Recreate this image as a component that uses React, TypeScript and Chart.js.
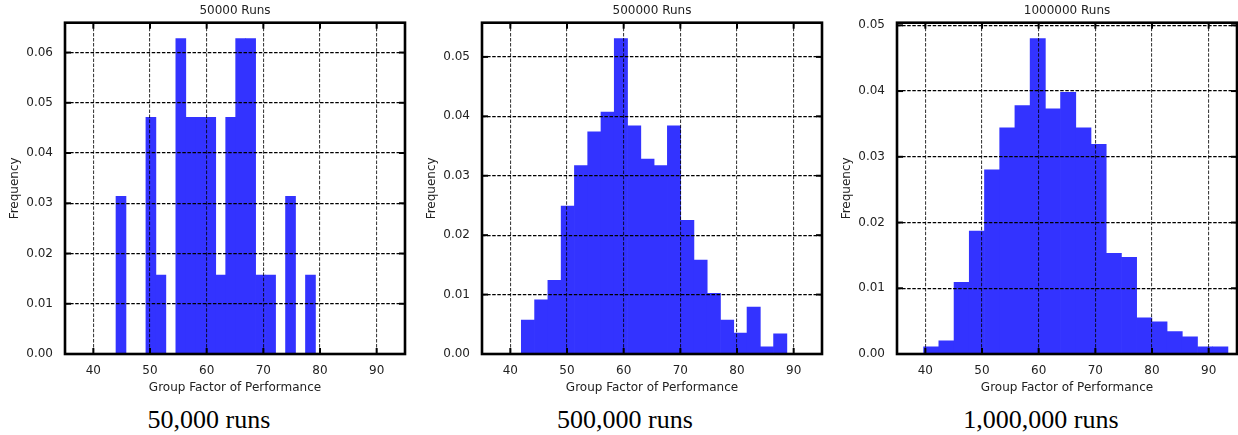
import React, { useEffect, useRef } from 'react';
import { Chart, registerables } from 'chart.js';

Chart.register(...registerables);

// ---- data ----
const xTickValues = [40, 50, 60, 70, 80, 90];
const yTicks50k = [0, 0.01, 0.02, 0.03, 0.04, 0.05, 0.06];
const yTicks500k = [0, 0.01, 0.02, 0.03, 0.04, 0.05];
const yTicks1m = [0, 0.01, 0.02, 0.03, 0.04, 0.05];

// histogram bins: first bin left edge and bin width, then frequencies per bin
const binStart50k = 44.0;
const binWidth50k = 1.76;
const freq50k = [
  0.0314, 0, 0, 0.0471, 0.0157, 0, 0.0628, 0.0471, 0.0471, 0.0471,
  0.0157, 0.0471, 0.0628, 0.0628, 0.0157, 0.0157, 0, 0.0314, 0, 0.0157,
];

const binStart500k = 41.94;
const binWidth500k = 2.343;
const freq500k = [
  0.0057, 0.0091, 0.0124, 0.0249, 0.0317, 0.0374, 0.0407, 0.0531, 0.0384, 0.0328,
  0.0317, 0.0384, 0.0225, 0.0158, 0.0102, 0.0057, 0.0035, 0.0079, 0.0012, 0.0034,
];

const binStart1m = 39.7;
const binWidth1m = 2.685;
const freq1m = [
  0.0011, 0.002, 0.0109, 0.0187, 0.028, 0.0344, 0.0378, 0.048, 0.0373, 0.0398,
  0.0344, 0.0319, 0.0153, 0.0147, 0.0055, 0.0049, 0.0034, 0.0026, 0.0011, 0.0011,
];

const panelTitles = ['50000 Runs', '500000 Runs', '1000000 Runs'];
const captions = ['50,000 runs', '500,000 runs', '1,000,000 runs'];
const xAxisTitle = 'Group Factor of Performance';
const yAxisTitle = 'Frequency';

const FONT = "'DejaVu Sans', 'Liberation Sans', sans-serif";
const TEXT = '#222';

const frameTicks = {
  id: 'frameTicks',
  afterDraw(chart: any) {
    const { ctx, chartArea: a, scales } = chart;
    const x = scales.x;
    const y = scales.y;
    ctx.save();
    ctx.strokeStyle = '#000';
    ctx.lineWidth = 2;
    const L = 6;
    const seg = (x1: number, y1: number, x2: number, y2: number) => {
      ctx.beginPath();
      ctx.moveTo(x1, y1);
      ctx.lineTo(x2, y2);
      ctx.stroke();
    };
    x.ticks.forEach((t: any) => {
      const px = x.getPixelForValue(t.value);
      seg(px, a.bottom, px, a.bottom - L);
      seg(px, a.top, px, a.top + L);
    });
    y.ticks.forEach((t: any) => {
      const py = y.getPixelForValue(t.value);
      seg(a.left, py, a.left + L, py);
      seg(a.right, py, a.right - L, py);
    });
    ctx.lineWidth = 2.6;
    ctx.strokeRect(a.left, a.top, a.right - a.left, a.bottom - a.top);
    ctx.restore();
  },
};

type PanelProps = {
  left: number;
  width: number;
  title: string;
  binStart: number;
  binWidth: number;
  values: number[];
  yTicks: number[];
};

function Panel({ left, width, title, binStart, binWidth, values, yTicks }: PanelProps) {
  const ref = useRef<HTMLCanvasElement | null>(null);
  useEffect(() => {
    if (!ref.current) return;
    const points = values.map((v, i) => ({ x: binStart + (i + 0.5) * binWidth, y: v }));
    const yMax = Math.max(...values) * 1.05;
    const chart = new Chart(ref.current, {
      type: 'bar',
      data: {
        datasets: [
          {
            data: points as any,
            backgroundColor: '#3333ff',
            borderWidth: 0,
            barPercentage: 1,
            categoryPercentage: 1,
            grouped: false,
          } as any,
        ],
      },
      options: {
        animation: false,
        responsive: false,
        maintainAspectRatio: false,
        layout: { padding: { left: 0, right: 2, top: 0, bottom: 0 } },
        plugins: {
          legend: { display: false },
          tooltip: { enabled: false },
          title: {
            display: true,
            text: title,
            fullSize: false,
            color: TEXT,
            font: { family: FONT, size: 12, weight: 'normal', lineHeight: 1.2 },
            padding: { top: 3.3, bottom: 5 },
          },
        },
        scales: {
          x: {
            type: 'linear',
            min: 35,
            max: 95,
            offset: false,
            afterBuildTicks: (ax: any) => {
              ax.ticks = xTickValues.map((v) => ({ value: v }));
            },
            afterFit: (ax: any) => {
              ax.height = 42;
            },
            grid: { z: 1, offset: false, drawTicks: false, color: 'rgba(0,0,0,0.75)', lineWidth: 1.1 },
            border: { display: false, dash: [3.5, 1.6] },
            ticks: {
              padding: 10,
              color: TEXT,
              font: { family: FONT, size: 12 },
              maxRotation: 0,
              autoSkip: false,
              callback: (v: any) => String(v),
            },
            title: {
              display: true,
              text: xAxisTitle,
              color: TEXT,
              font: { family: FONT, size: 12, lineHeight: 1.2 },
              padding: { top: 0, bottom: 1 },
            },
          } as any,
          y: {
            type: 'linear',
            min: 0,
            max: yMax,
            afterBuildTicks: (ax: any) => {
              ax.ticks = yTicks.map((v) => ({ value: v }));
            },
            afterFit: (ax: any) => {
              ax.width = 65;
            },
            grid: { z: 1, drawTicks: false, color: '#000', lineWidth: 1.2 },
            border: { display: false, dash: [3.5, 1.6] },
            ticks: {
              padding: 12,
              color: TEXT,
              font: { family: FONT, size: 12 },
              autoSkip: false,
              callback: (v: any) => Number(v).toFixed(2),
            },
            title: {
              display: true,
              text: yAxisTitle,
              color: TEXT,
              font: { family: FONT, size: 12, lineHeight: 1.2 },
              padding: { top: 7.8, bottom: 0 },
            },
          } as any,
        },
      },
      plugins: [frameTicks],
    });
    return () => chart.destroy();
  }, [title, binStart, binWidth, values, yTicks]);

  return (
    <canvas
      ref={ref}
      width={width}
      height={396}
      style={{ position: 'absolute', left, top: 0, width, height: 396 }}
    />
  );
}

const captionCenters = [209, 625, 1041];

export default function App() {
  return (
    <div
      style={{
        position: 'absolute',
        left: 0,
        top: 0,
        width: 1238,
        height: 435,
        overflow: 'hidden',
        background: '#fff',
      }}
    >
      <Panel left={0} width={407} title={panelTitles[0]} binStart={binStart50k} binWidth={binWidth50k} values={freq50k} yTicks={yTicks50k} />
      <Panel left={417} width={407} title={panelTitles[1]} binStart={binStart500k} binWidth={binWidth500k} values={freq500k} yTicks={yTicks500k} />
      <Panel left={832} width={407} title={panelTitles[2]} binStart={binStart1m} binWidth={binWidth1m} values={freq1m} yTicks={yTicks1m} />
      {captions.map((c, i) => (
        <div
          key={c}
          style={{
            position: 'absolute',
            left: captionCenters[i] - 150,
            top: 404.5,
            width: 300,
            textAlign: 'center',
            fontFamily: "'Liberation Serif', 'Times New Roman', serif",
            fontSize: 26,
            lineHeight: '30px',
            color: '#000',
          }}
        >
          {c}
        </div>
      ))}
    </div>
  );
}
